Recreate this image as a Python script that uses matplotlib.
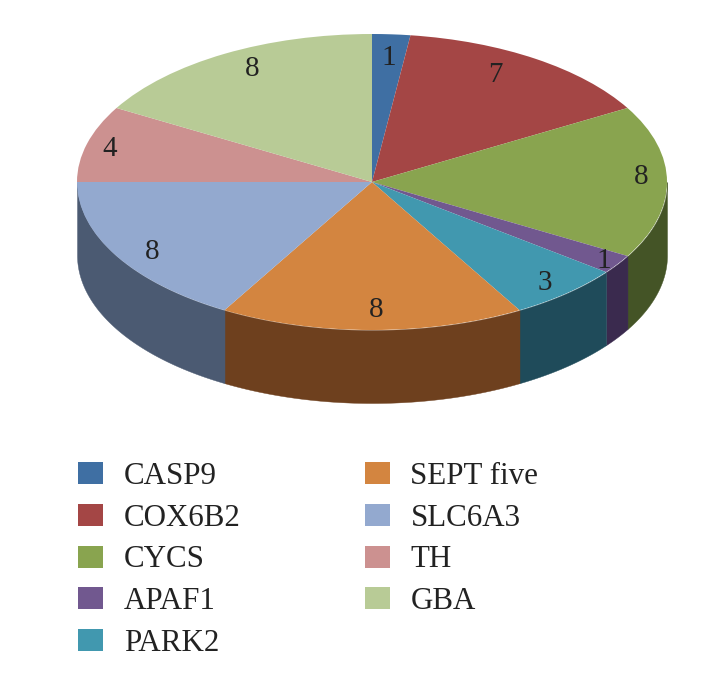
import numpy as np
import matplotlib
matplotlib.use('Agg')
import matplotlib.pyplot as plt

genes = ['CASP9', 'COX6B2', 'CYCS', 'APAF1', 'PARK2', 'SEPT five', 'SLC6A3', 'TH', 'GBA']
counts = [1, 7, 8, 1, 3, 8, 8, 4, 8]
top_colors = ['#3F6FA3', '#A44645', '#89A44F', '#71588F', '#4198AF',
              '#D38540', '#93A9CF', '#CC9190', '#B8CB96']
side_colors = ['#27456A', '#6A2B2A', '#445426', '#3A2A4E', '#1F4B5A',
               '#6E401E', '#4B5A72', '#6D4C4B', '#5F6A4D']

plt.rcParams['font.family'] = ['Liberation Serif', 'DejaVu Serif']

fig = plt.figure(figsize=(7.21, 6.73), dpi=100)
ax = fig.add_axes([0, 0, 1, 1])

# x and y scales differ, this squashes the pie into an ellipse
rx, ry = 295, 148
cx, cy = 372, 182
depth = 73 / ry

# side wall, only the front half shows
edges = np.cumsum([0] + counts) / sum(counts) * 360
for i in range(len(counts)):
    a0 = max(edges[i], 90)
    a1 = min(edges[i + 1], 270)
    if a1 <= a0:
        continue
    t = np.radians(np.linspace(a0, a1, 80))
    ax.fill_between(np.sin(t), np.cos(t), np.cos(t) - depth,
                    color=side_colors[i], lw=0.3, zorder=1)

wedges, _, nums = ax.pie(counts, colors=top_colors, startangle=90, counterclock=False,
                         autopct=lambda p: '%d' % round(p * sum(counts) / 100),
                         pctdistance=0.88, frame=True,
                         textprops={'fontsize': 21, 'color': '#222222'},
                         wedgeprops={'zorder': 2, 'lw': 0})

# nudge the numbers by hand, in pixels (right, down)
nudges = [(0, 6), (-21, 1), (10, -5), (16, 7), (2, 3), (4, -2), (5, 5), (-12, 1), (10, 0)]
for n, (dx, dy) in zip(nums, nudges):
    x, y = n.get_position()
    n.set_position((x + dx / rx, y - dy / ry))
    n.set_zorder(3)

ax.set_aspect('auto')
ax.set_xlim(-cx / rx, (721 - cx) / rx)
ax.set_ylim(-(673 - cy) / ry, cy / ry)
ax.axis('off')

ax.legend(wedges, genes, ncol=2, frameon=False, fontsize=22.3, loc='upper left',
          bbox_to_anchor=(78 / 721, 1 - 462 / 673), borderaxespad=0, borderpad=0,
          handlelength=0.81, handleheight=0.71, handletextpad=0.67,
          labelspacing=0.41, columnspacing=4.0, labelcolor='#222222')

fig.savefig('out.png', dpi=100)
